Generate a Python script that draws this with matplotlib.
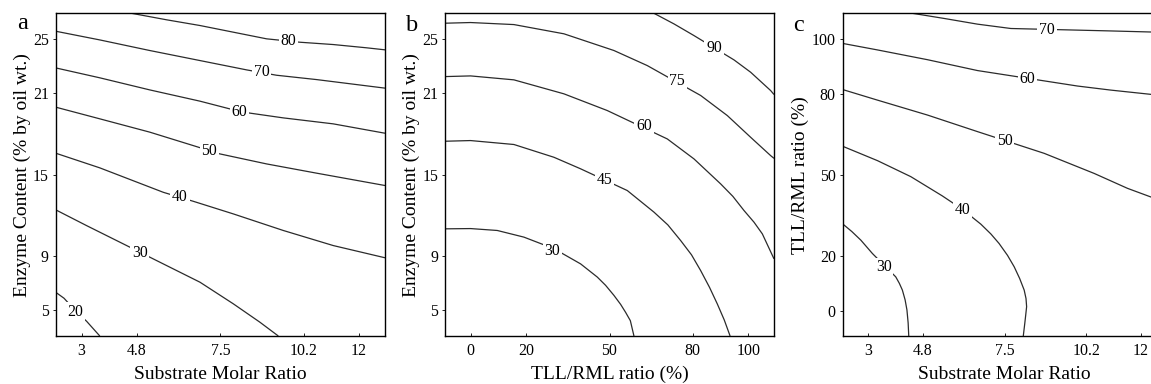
import matplotlib
import matplotlib.pyplot as plt

matplotlib.use("agg")
plt.rcParams["font.family"] = ["Liberation Serif", "DejaVu Serif"]

# tick values / labels
molar_ticks = [3, 4.8, 7.5, 10.2, 12]
molar_labels = ["3", "4.8", "7.5", "10.2", "12"]
enzyme_ticks = [5, 9, 15, 21, 25]
ratio_ticks = [0, 20, 50, 80, 100]

# panel a: substrate molar ratio (x) vs enzyme content (y)
a_levels = [80, 70, 60, 50, 40, 30, 20]
a_x = [
    [4.62, 5.76, 6.84, 7.92, 9.00, 10.08, 11.16, 12.24, 12.84],
    [2.16, 3.59, 5.21, 6.84, 8.36, 9.32, 10.62, 12.84],
    [2.16, 3.59, 5.21, 6.84, 7.81, 8.46, 9.54, 11.16, 12.84],
    [2.16, 3.59, 5.21, 6.72, 7.48, 9.00, 10.62, 12.84],
    [2.16, 3.59, 5.65, 6.62, 7.92, 9.54, 11.16, 12.84],
    [2.16, 3.16, 4.46, 5.33, 6.84, 7.92, 8.78, 9.38],
    [2.16, 2.43, 2.81, 3.16, 3.59],
]
a_y = [
    [26.88, 26.40, 25.98, 25.49, 25.00, 24.75, 24.58, 24.34, 24.19],
    [25.56, 24.92, 24.14, 23.40, 22.71, 22.32, 22.00, 21.37],
    [22.86, 22.13, 21.24, 20.41, 19.84, 19.53, 19.18, 18.74, 18.05],
    [19.97, 19.11, 18.13, 17.07, 16.53, 15.79, 15.11, 14.20],
    [16.58, 15.50, 13.70, 13.04, 12.11, 10.89, 9.78, 8.88],
    [12.41, 11.25, 9.78, 8.79, 7.08, 5.49, 4.14, 3.12],
    [6.34, 5.90, 4.95, 4.21, 3.12],
]
a_lab_x = [9.70, 8.84, 8.11, 7.14, 6.19, 4.89, 2.80]
a_lab_y = [24.82, 22.54, 19.60, 16.72, 13.33, 9.25, 4.90]

# panel b: TLL/RML ratio (x) vs enzyme content (y)
b_levels = [30, 45, 60, 75, 90]
b_x = [
    [-9.2, 0, 9.6, 19.2, 30.0, 39.6, 45.6, 48.6, 51.6, 54.0, 55.8, 57.5, 58.8],
    [-9.2, 0, 15.6, 30.0, 39.6, 56.4, 66.0, 71.0, 75.6, 79.5, 82.8, 86.0, 88.8, 91.3, 93.4],
    [-9.2, 0, 15.6, 33.6, 49.2, 70.8, 80.4, 90.0, 94.4, 98.4, 102.0, 105.0, 109.2],
    [-9.2, 0, 15.6, 33.6, 51.6, 63.6, 82.8, 92.4, 100.8, 108.0, 109.2],
    [66.0, 73.2, 80.4, 94.8, 100.8, 108.0, 109.2],
]
b_y = [
    [11.01, 11.03, 10.89, 10.40, 9.55, 8.43, 7.46, 6.85, 6.11, 5.45, 4.86, 4.25, 3.12],
    [17.46, 17.51, 17.22, 16.28, 15.43, 13.83, 12.24, 11.30, 10.15, 9.10, 7.94, 6.70, 5.48, 4.30, 3.12],
    [22.22, 22.27, 21.98, 20.95, 19.72, 17.63, 16.16, 14.32, 13.40, 12.36, 11.50, 10.64, 8.80],
    [26.15, 26.20, 26.05, 25.37, 24.14, 23.03, 20.83, 19.35, 17.75, 16.40, 16.20],
    [26.88, 26.10, 25.24, 23.45, 22.54, 21.19, 20.90],
]
b_lab_x = [29.4, 48.3, 62.4, 74.4, 87.6]
b_lab_y = [9.35, 14.64, 18.55, 21.93, 24.35]

# panel c: substrate molar ratio (x) vs TLL/RML ratio (y)
c_levels = [70, 60, 50, 40, 30]
c_x = [
    [4.46, 5.51, 6.61, 7.71, 9.91, 11.01, 12.36, 12.84],
    [2.16, 3.31, 4.96, 6.61, 9.91, 11.01, 12.36, 12.84],
    [2.16, 3.31, 4.96, 6.61, 8.81, 10.46, 11.56, 12.36, 12.84],
    [2.16, 3.31, 4.41, 5.45, 6.12, 6.72, 7.05, 7.32, 7.60, 7.82, 8.00, 8.15, 8.21, 8.23, 8.20, 8.17, 8.12],
    [2.16, 2.46, 2.76, 3.14, 3.55, 3.91, 4.03, 4.13, 4.22, 4.28, 4.32, 4.34],
]
c_y = [
    [109.6, 107.7, 105.6, 104.0, 103.4, 103.1, 102.7, 102.6],
    [98.5, 96.1, 92.5, 88.5, 82.8, 81.3, 79.7, 79.2],
    [81.5, 77.6, 72.1, 66.0, 58.0, 50.6, 45.1, 41.8, 39.5],
    [60.6, 55.3, 49.4, 42.3, 37.3, 31.9, 28.3, 24.8, 20.4, 16.2, 11.9, 7.6, 4.5, 1.5, -1.6, -4.6, -9.3],
    [32.0, 29.2, 26.0, 21.1, 16.5, 12.5, 10.1, 7.6, 4.0, 0.3, -4.5, -9.3],
]
c_lab_x = [8.90, 8.26, 7.51, 6.12, 3.51]
c_lab_y = [103.4, 85.5, 62.5, 37.3, 16.0]

fig = plt.figure(figsize=(11.51, 3.84), dpi=100)
W, H = 1151, 384
ax_a = fig.add_axes([55.7 / W, 48 / H, 329.3 / W, 322.7 / H])
ax_b = fig.add_axes([445 / W, 48 / H, 329 / W, 322.7 / H])
ax_c = fig.add_axes([842.7 / W, 48 / H, 323.6 / W, 322.7 / H])


def draw_panel(ax, xs, ys, levels, lab_x, lab_y):
    for x, y in zip(xs, ys):
        ax.plot(x, y, color="#2b2b2b", lw=0.9, solid_capstyle="butt")
    for lev, lx, ly in zip(levels, lab_x, lab_y):
        ax.text(lx, ly, str(lev), fontsize=11.3, ha="center", va="center",
                bbox=dict(fc="white", ec="none", pad=1.2))
    for s in ax.spines.values():
        s.set_linewidth(1.0)
    ax.tick_params(axis="x", direction="in", length=2.5, width=0.6,
                   labelsize=11.4, pad=5)
    ax.tick_params(axis="y", direction="out", length=2.5, width=0.6,
                   labelsize=11.4, pad=2.5)


draw_panel(ax_a, a_x, a_y, a_levels, a_lab_x, a_lab_y)
ax_a.set_xlim(2.16, 12.84)
ax_a.set_ylim(3.12, 26.88)
ax_a.set_xticks(molar_ticks, molar_labels)
ax_a.set_yticks(enzyme_ticks)
ax_a.set_xlabel("Substrate Molar Ratio", fontsize=14, labelpad=5)
ax_a.set_ylabel("Enzyme Content (% by oil wt.)", fontsize=14, labelpad=1.5)

draw_panel(ax_b, b_x, b_y, b_levels, b_lab_x, b_lab_y)
ax_b.set_xlim(-9.2, 109.2)
ax_b.set_ylim(3.12, 26.88)
ax_b.set_xticks(ratio_ticks)
ax_b.set_yticks(enzyme_ticks)
ax_b.set_xlabel("TLL/RML ratio (%)", fontsize=14, labelpad=5)
ax_b.set_ylabel("Enzyme Content (% by oil wt.)", fontsize=14, labelpad=1.5)

draw_panel(ax_c, c_x, c_y, c_levels, c_lab_x, c_lab_y)
ax_c.set_xlim(2.16, 12.84)
ax_c.set_ylim(-9.3, 109.6)
ax_c.set_xticks(molar_ticks, molar_labels)
ax_c.set_yticks(ratio_ticks)
ax_c.set_xlabel("Substrate Molar Ratio", fontsize=14, labelpad=5)
ax_c.set_ylabel("TLL/RML ratio (%)", fontsize=14, labelpad=2)

fig.text(17 / W, 1 - 29 / H, "a", fontsize=17.5, ha="left", va="baseline")
fig.text(406 / W, 1 - 31 / H, "b", fontsize=17.5, ha="left", va="baseline")
fig.text(793 / W, 1 - 31 / H, "c", fontsize=17.5, ha="left", va="baseline")

fig.savefig("out.png", dpi=100)
